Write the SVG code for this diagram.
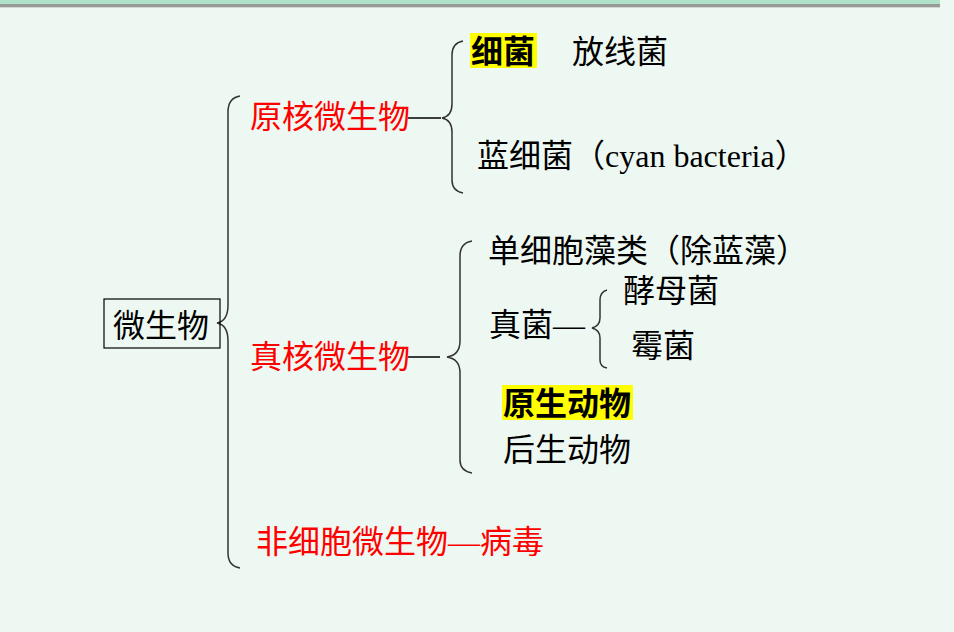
<svg xmlns="http://www.w3.org/2000/svg" width="954" height="632" viewBox="0 0 954 632">
<style>
text{font-family:"Liberation Serif","Noto Sans CJK SC",serif;font-size:32px;fill:#000}
.red{fill:#ff0000}
.b{font-weight:bold}
.brace{fill:none;stroke:#333;stroke-width:1.5}
.ln{stroke:#000;stroke-width:1.5}
.hl{fill:#ffff00}
</style>
<rect x="0" y="0" width="954" height="632" fill="#eef8f2"/>
<rect x="0" y="0" width="940" height="4" fill="#aee3c9"/>
<rect x="0" y="4" width="940" height="3" fill="#999999"/>
<rect x="0" y="7" width="940" height="1" fill="#d0d8d4"/>
<g id="connectors">
<path class="brace" d="M240,96 Q228,98 228,112 L228,305 Q228,321 217,323 Q228,325 228,341 L228,553 Q228,566 240,568"/>
<path class="brace" d="M463,41 Q452,43 452,55 L452,104 Q452,116 442,118 Q452,120 452,132 L452,180 Q452,191 463,193"/>
<path class="brace" d="M472,241 Q460,243 460,256 L460,341 Q460,355 447,357 Q460,359 460,373 L460,460 Q460,471 472,473"/>
<path class="brace" d="M607,290 Q600,292 600,300 L600,318 Q600,326 592,328 Q600,330 600,338 L600,360 Q600,367 607,368"/>
<line class="ln" x1="408" y1="118" x2="441" y2="118"/>
<line class="ln" x1="408" y1="357" x2="440" y2="357"/>
</g>
<g id="root">
<rect x="104" y="299" width="116" height="49" fill="none" stroke="#000" stroke-width="1.2"/>
<text x="113" y="337">微生物</text>
</g>
<g id="prokaryote"><text class="red" x="250" y="128">原核微生物</text></g>
<g id="eukaryote"><text class="red" x="250" y="368">真核微生物</text></g>
<g id="acellular"><text class="red" x="256" y="553">非细胞微生物—病毒</text></g>
<g id="bacteria">
<rect class="hl" x="470" y="33" width="67" height="35"/>
<text class="b" x="471" y="63">细菌</text>
</g>
<g id="actinomycetes"><text x="572" y="63">放线菌</text></g>
<g id="cyanobacteria"><text x="477" y="167">蓝细菌（cyan bacteria）</text></g>
<g id="algae"><text x="488" y="262">单细胞藻类（除蓝藻）</text></g>
<g id="fungi"><text x="489" y="336">真菌—</text></g>
<g id="yeast"><text x="623" y="302">酵母菌</text></g>
<g id="mold"><text x="631" y="357">霉菌</text></g>
<g id="protozoa">
<rect class="hl" x="502" y="385" width="131" height="35"/>
<text class="b" x="503" y="415">原生动物</text>
</g>
<g id="metazoa"><text x="503" y="461">后生动物</text></g>
</svg>
